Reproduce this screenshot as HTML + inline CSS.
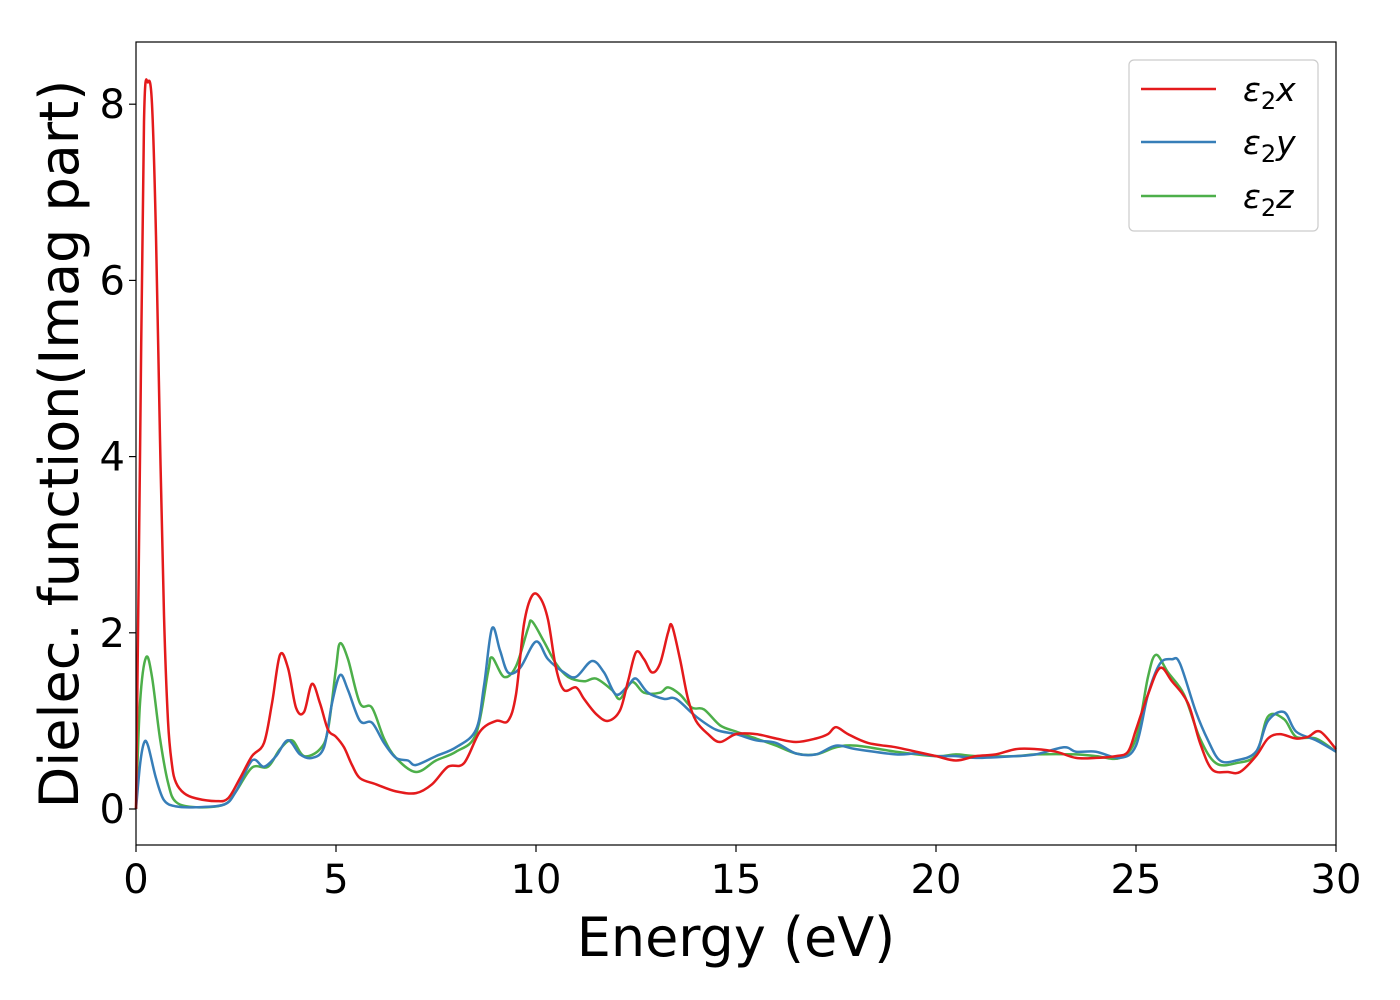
<!DOCTYPE html>
<html><head><meta charset="utf-8">
<style>
html,body{margin:0;padding:0;background:#fff;}
svg{display:block;font-family:"DejaVu Sans","Liberation Sans",sans-serif;}
</style></head>
<body>
<svg id="chart" width="1400" height="1000" viewBox="0 0 1400 1000" xmlns="http://www.w3.org/2000/svg">
<rect x="0" y="0" width="1400" height="1000" fill="#fff"/>
<g id="series"></g>
<rect x="136" y="42" width="1200" height="803" fill="none" stroke="#000" stroke-width="1.2"/>
<g id="xticks"></g>
<g id="yticks"></g>
<text x="736" y="956" font-size="54" text-anchor="middle">Energy (eV)</text>
<text transform="translate(78,444) rotate(-90)" font-size="54" text-anchor="middle">Dielec. function(Imag part)</text>
<g>
<rect x="1129" y="60" width="189" height="171" rx="5" fill="#fff" stroke="#ccc" stroke-width="1.2"/>
<g>
<line x1="1141" y1="89" x2="1216" y2="89" stroke="#e41a1c" stroke-width="2.5"/>
<text x="1243" y="101" font-size="33" font-style="italic">ε<tspan font-style="normal" font-size="24" dy="8">2</tspan><tspan dy="-8">x</tspan></text>
</g>
<g>
<line x1="1141" y1="142" x2="1216" y2="142" stroke="#377eb8" stroke-width="2.5"/>
<text x="1243" y="154" font-size="33" font-style="italic">ε<tspan font-style="normal" font-size="24" dy="8">2</tspan><tspan dy="-8">y</tspan></text>
</g>
<g>
<line x1="1141" y1="196" x2="1216" y2="196" stroke="#4daf4a" stroke-width="2.5"/>
<text x="1243" y="208" font-size="33" font-style="italic">ε<tspan font-style="normal" font-size="24" dy="8">2</tspan><tspan dy="-8">z</tspan></text>
</g>
</g>
</svg>
<script>
const xTicks=[0,5,10,15,20,25,30];
const yTicks=[0,2,4,6,8];
const redE=[0,0.1,0.2,0.3,0.4,0.5,0.6,0.7,0.8,0.9,1.0,1.2,1.5,2,2.3,2.6,2.9,3.2,3.4,3.6,3.8,4.0,4.2,4.4,4.6,4.8,5.0,5.2,5.4,5.6,6.0,6.5,7.0,7.4,7.8,8.2,8.6,9.0,9.3,9.5,9.7,9.9,10.1,10.3,10.5,10.7,11.0,11.2,11.5,11.8,12.1,12.3,12.5,12.7,12.9,13.1,13.3,13.4,13.6,13.8,14.0,14.3,14.6,15,15.5,16,16.5,17,17.3,17.5,17.8,18.3,19,19.5,20,20.5,21,21.5,22,22.5,23,23.5,24,24.5,24.8,25,25.3,25.6,25.9,26.3,26.6,26.9,27.3,27.6,28.0,28.3,28.6,29,29.3,29.6,30];
const redV=[0,4,7.8,8.25,8.0,6.5,4.2,2.2,1.0,0.5,0.3,0.18,0.12,0.09,0.12,0.35,0.6,0.75,1.2,1.75,1.6,1.15,1.1,1.42,1.2,0.9,0.82,0.7,0.5,0.35,0.28,0.2,0.18,0.28,0.48,0.52,0.88,1.0,1.0,1.3,2.1,2.42,2.4,2.15,1.6,1.35,1.38,1.25,1.08,1.0,1.12,1.45,1.78,1.7,1.55,1.65,2.0,2.08,1.7,1.25,1.0,0.85,0.76,0.85,0.85,0.8,0.76,0.8,0.85,0.93,0.85,0.75,0.7,0.65,0.6,0.55,0.6,0.62,0.68,0.68,0.65,0.58,0.58,0.6,0.65,0.9,1.3,1.6,1.45,1.2,0.75,0.45,0.42,0.42,0.6,0.8,0.85,0.8,0.82,0.88,0.68];
const blueE=[0,0.1,0.2,0.3,0.5,0.7,1.0,1.5,2.2,2.5,2.9,3.2,3.5,3.8,4.1,4.4,4.7,4.9,5.1,5.3,5.6,5.9,6.2,6.5,6.8,7.0,7.5,8.0,8.5,8.7,8.9,9.1,9.3,9.6,10.0,10.3,10.7,11.0,11.4,11.7,12.0,12.3,12.5,12.8,13.2,13.5,14,14.5,15,15.5,16,16.5,17,17.5,18,19,19.5,20,20.5,21,22,22.5,23.2,23.5,24,24.6,25,25.3,25.6,25.9,26.1,26.5,26.8,27.1,27.5,28,28.3,28.7,29,29.5,30];
const blueV=[0,0.5,0.75,0.72,0.35,0.1,0.03,0.02,0.05,0.2,0.55,0.48,0.6,0.78,0.62,0.58,0.7,1.2,1.52,1.35,1.0,0.98,0.75,0.58,0.55,0.5,0.6,0.7,0.9,1.4,2.05,1.8,1.55,1.6,1.9,1.7,1.55,1.5,1.68,1.55,1.3,1.4,1.48,1.32,1.25,1.25,1.05,0.9,0.85,0.78,0.75,0.63,0.62,0.72,0.68,0.62,0.63,0.6,0.6,0.58,0.6,0.62,0.7,0.65,0.65,0.58,0.72,1.3,1.65,1.7,1.65,1.1,0.78,0.55,0.55,0.65,1.0,1.1,0.88,0.78,0.65];
const greenE=[0,0.1,0.25,0.4,0.6,0.8,1.0,1.5,2.2,2.5,2.9,3.3,3.6,3.9,4.2,4.6,4.8,5.0,5.1,5.3,5.6,5.9,6.2,6.5,7.0,7.5,8.0,8.5,8.8,8.9,9.2,9.5,9.8,9.9,10.2,10.5,10.8,11.2,11.5,11.9,12.1,12.4,12.7,13.1,13.3,13.6,13.9,14.2,14.6,15,15.5,16,16.5,17,17.5,18,19,20,20.5,21,22,22.5,23.5,24,24.6,25,25.3,25.5,25.8,26.2,26.6,27.0,27.5,28,28.3,28.7,29,29.5,30];
const greenV=[0,1.2,1.72,1.5,0.8,0.3,0.08,0.02,0.05,0.2,0.47,0.48,0.68,0.78,0.6,0.68,0.9,1.6,1.88,1.7,1.2,1.15,0.8,0.58,0.42,0.55,0.65,0.85,1.55,1.72,1.5,1.62,2.05,2.13,1.9,1.65,1.5,1.45,1.48,1.35,1.25,1.44,1.32,1.32,1.38,1.3,1.15,1.13,0.95,0.88,0.8,0.72,0.63,0.62,0.7,0.72,0.65,0.6,0.62,0.6,0.6,0.62,0.62,0.6,0.58,0.8,1.5,1.75,1.55,1.3,0.8,0.52,0.52,0.62,1.05,1.02,0.82,0.8,0.65];

const X0=136,X1=1336,Y0=809,YPER=88.1;
function sx(e){return X0+(e-0)/30*(X1-X0);}
function sy(v){return Y0-v*YPER;}
const NS="http://www.w3.org/2000/svg";
function mk(t,a){const el=document.createElementNS(NS,t);for(const k in a)el.setAttribute(k,a[k]);return el;}
function pathFor(E,V){
  const p=E.map((e,i)=>[sx(e),sy(V[i])]);
  let d="M"+p[0][0].toFixed(1)+","+p[0][1].toFixed(1);
  for(let i=0;i<p.length-1;i++){
    const p0=p[Math.max(0,i-1)],p1=p[i],p2=p[i+1],p3=p[Math.min(p.length-1,i+2)];
    const c1=[p1[0]+(p2[0]-p0[0])/6,p1[1]+(p2[1]-p0[1])/6];
    const c2=[p2[0]-(p3[0]-p1[0])/6,p2[1]-(p3[1]-p1[1])/6];
    d+="C"+c1[0].toFixed(1)+","+c1[1].toFixed(1)+" "+c2[0].toFixed(1)+","+c2[1].toFixed(1)+" "+p2[0].toFixed(1)+","+p2[1].toFixed(1);
  }
  return d;
}
const g=document.getElementById('series');
[[greenE,greenV,'#4daf4a','series-eps2z'],[blueE,blueV,'#377eb8','series-eps2y'],[redE,redV,'#e41a1c','series-eps2x']].forEach(s=>{
  const el=mk('path',{d:pathFor(s[0],s[1]),fill:'none',stroke:s[2],'stroke-width':2.5,'stroke-linejoin':'round'});
  
  
  g.appendChild(el);
});
const xg=document.getElementById('xticks');
xTicks.forEach(t=>{
  const x=sx(t);
  const l=mk('line',{x1:x,y1:845,x2:x,y2:852,stroke:'#000','stroke-width':1.2});
  
  
  xg.appendChild(l);
  const tx=mk('text',{x:x,y:893,'font-size':40,'text-anchor':'middle'});
  
  
  tx.textContent=t;xg.appendChild(tx);
});
const yg=document.getElementById('yticks');
yTicks.forEach(t=>{
  const y=sy(t);
  const l=mk('line',{x1:129,y1:y,x2:136,y2:y,stroke:'#000','stroke-width':1.2});
  
  
  yg.appendChild(l);
  const tx=mk('text',{x:125,y:y+14,'font-size':40,'text-anchor':'end'});
  
  
  tx.textContent=t;yg.appendChild(tx);
});
</script>
</body></html>
